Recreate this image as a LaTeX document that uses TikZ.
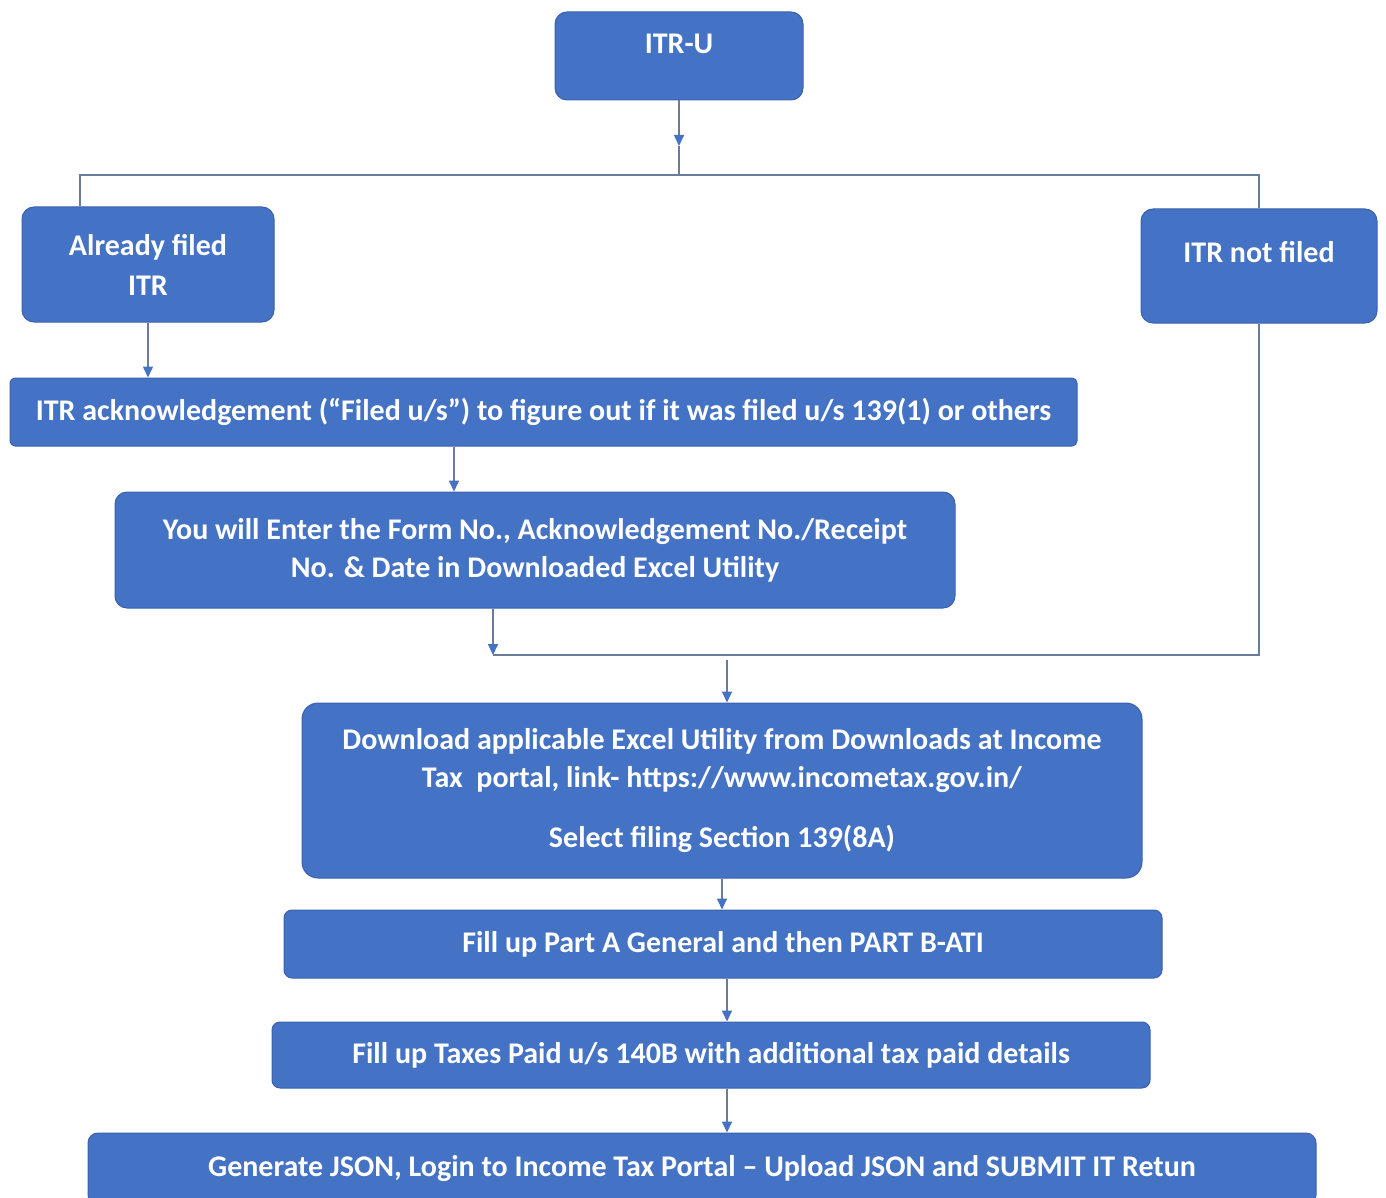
\documentclass[tikz,border=0pt]{standalone}
\usepackage{fontspec}
\setmainfont{Carlito}
\usetikzlibrary{arrows.meta,calc}
\definecolor{boxblue}{HTML}{4472C4}
\definecolor{boxedge}{HTML}{3A62AC}
\definecolor{linecol}{HTML}{6A7C9E}
\begin{document}
\begin{tikzpicture}[x=1pt,y=-1pt,
  box/.style={draw=boxedge, line width=1pt, fill=boxblue, rounded corners=12pt,
    text=white, font=\fontsize{30}{38}\selectfont\bfseries, align=center, inner sep=0pt},
  conn/.style={draw=linecol, line width=1.6pt},
  arr/.style={conn, -{Triangle[length=11pt,width=10pt,fill=boxblue,color=boxblue]}}]
\useasboundingbox (0,0) rectangle (1386,1198);

\node[box, minimum width=248pt, minimum height=88pt, text depth=24pt] (itru) at (679,56) {ITR-U};
\node[box, minimum width=252pt, minimum height=115pt, font=\fontsize{30}{40}\selectfont\bfseries] (filed) at (148,264.5) {Already filed\\ITR};
\node[box, minimum width=236pt, minimum height=114pt, text depth=28pt] (notfiled) at (1259,266) {ITR not filed};
\node[box, rounded corners=5pt, minimum width=1067pt, minimum height=68pt] (ack) at (543.5,412)
  {ITR acknowledgement (“Filed u/s”) to figure out if it was filed u/s 139(1) or others};
\node[box, minimum width=840pt, minimum height=116pt] (enter) at (535,550)
  {You will Enter the Form No., Acknowledgement No./Receipt\\No. \& Date in Downloaded Excel Utility};
\node[box, rounded corners=16pt, minimum width=840pt, minimum height=175pt] (download) at (722,790.5)
  {Download applicable Excel Utility from Downloads at Income\\Tax\ \ portal, link- https://www.incometax.gov.in/\\[22pt]Select filing Section 139(8A)};
\node[box, rounded corners=8pt, minimum width=878pt, minimum height=68pt] (parta) at (723,944)
  {Fill up Part A General and then PART B-ATI};
\node[box, rounded corners=8pt, minimum width=878pt, minimum height=66pt] (taxes) at (711,1055)
  {Fill up Taxes Paid u/s 140B with additional tax paid details};
\node[box, rounded corners=10pt, minimum width=1228pt, minimum height=72pt] (json) at (702,1169)
  {Generate JSON, Login to Income Tax Portal – Upload JSON and SUBMIT IT Retun};

% helper coordinates
\coordinate (j1) at (679,175);
\coordinate (j0) at (679,146);
\coordinate (xl) at (80,0);
\coordinate (xa) at (454,0);
\coordinate (m1) at (493,655);
\coordinate (m2) at (727,660);
\coordinate (xb) at (727,0);

\draw[arr] (itru.south) -- (j0);
\draw[conn] (j0) -- (j1);
\draw[conn] (filed.north -| xl) |- (j1) -| (notfiled.north);
\draw[arr] (filed.south) -- (filed.south |- ack.north);
\draw[arr] (ack.south -| xa) -- (enter.north -| xa);
\draw[arr] (enter.south -| m1) -- (m1);
\draw[conn] (m1) -| (notfiled.south);
\draw[arr] (m2) -- (download.north -| m2);
\draw[arr] (download.south) -- (parta.north -| download.south);
\draw[arr] (parta.south -| xb) -- (taxes.north -| xb);
\draw[arr] (taxes.south -| xb) -- (json.north -| xb);
\end{tikzpicture}
\end{document}
